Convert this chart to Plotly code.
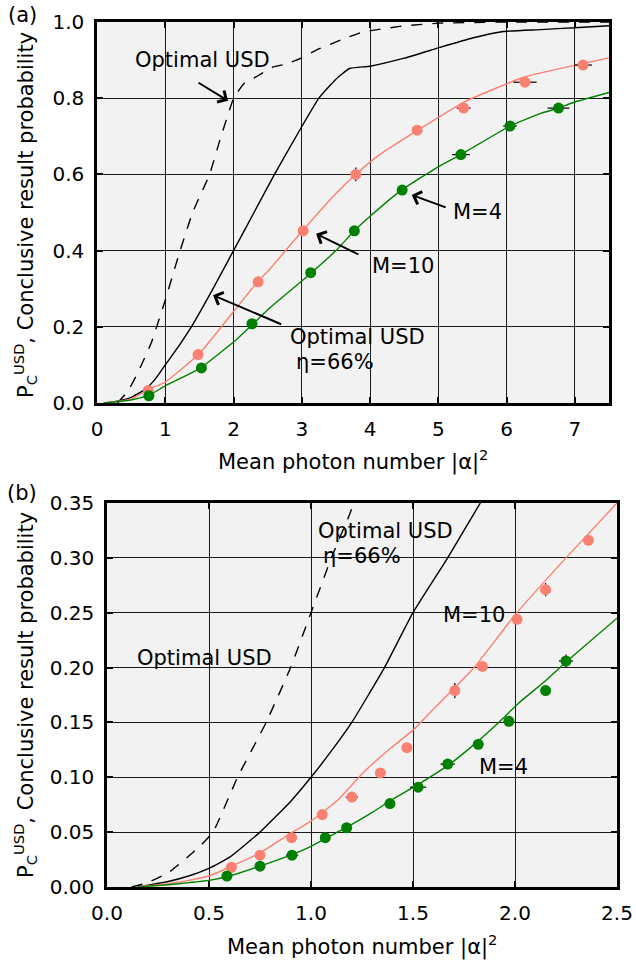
import plotly.graph_objects as go

# ---------------- Panel (a) data ----------------
a_dash_x = [0.30, 0.45, 0.60, 0.80, 1.00, 1.20, 1.40, 1.65, 1.80, 2.00, 2.15, 2.34, 2.58, 2.78, 3.00, 3.22, 3.63, 3.90, 4.50, 5.02, 6.00, 7.50]
a_dash_y = [0.000, 0.030, 0.080, 0.160, 0.270, 0.390, 0.500, 0.600, 0.690, 0.800, 0.838, 0.857, 0.882, 0.890, 0.906, 0.927, 0.957, 0.974, 0.990, 0.997, 1.000, 1.000]

a_solid_x = [0.10, 0.30, 0.50, 0.70, 0.85, 1.00, 1.20, 1.40, 1.70, 2.00, 2.30, 2.60, 2.95, 3.25, 3.50, 3.70, 4.00, 4.50, 5.00, 5.50, 5.95, 6.50, 7.00, 7.50]
a_solid_y = [0.000, 0.005, 0.015, 0.035, 0.062, 0.100, 0.150, 0.205, 0.300, 0.400, 0.500, 0.600, 0.710, 0.800, 0.850, 0.878, 0.884, 0.905, 0.932, 0.958, 0.975, 0.980, 0.985, 0.990]

a_m10_line_x = [0.10, 0.50, 0.75, 1.00, 1.50, 2.00, 2.36, 2.50, 3.00, 3.50, 3.79, 4.14, 4.69, 5.39, 6.25, 7.12, 7.50]
a_m10_line_y = [0.000, 0.010, 0.035, 0.055, 0.130, 0.240, 0.320, 0.345, 0.450, 0.550, 0.600, 0.652, 0.715, 0.791, 0.855, 0.891, 0.906]

a_m4_line_x = [0.10, 0.50, 0.76, 1.00, 1.50, 2.00, 2.27, 2.50, 3.00, 3.50, 3.77, 4.00, 4.47, 5.00, 5.33, 5.50, 6.05, 6.50, 6.76, 7.00, 7.50]
a_m4_line_y = [0.000, 0.008, 0.020, 0.045, 0.090, 0.160, 0.205, 0.245, 0.320, 0.400, 0.452, 0.490, 0.560, 0.620, 0.652, 0.670, 0.727, 0.760, 0.774, 0.790, 0.815]

a_m10_pts_x = [0.75, 1.48, 2.36, 3.02, 3.79, 4.69, 5.37, 6.27, 7.12]
a_m10_pts_y = [0.033, 0.127, 0.318, 0.452, 0.600, 0.716, 0.774, 0.842, 0.887]
a_m10_err_x = [0.0, 0.0, 0.0, 0.0, 0.0, 0.0, 0.10, 0.17, 0.13]
a_m10_err_y = [0.0, 0.0, 0.0, 0.0, 0.018, 0.0, 0.0, 0.0, 0.0]

a_m4_pts_x = [0.76, 1.53, 2.27, 3.13, 3.77, 4.47, 5.33, 6.05, 6.76]
a_m4_pts_y = [0.019, 0.092, 0.208, 0.342, 0.452, 0.559, 0.652, 0.727, 0.774]
a_m4_err_x = [0.0, 0.0, 0.0, 0.0, 0.0, 0.0, 0.13, 0.10, 0.16]
a_m4_err_y = [0.0, 0.0, 0.0, 0.0, 0.0, 0.0, 0.0, 0.0, 0.0]

# ---------------- Panel (b) data ----------------
b_dash_x = [0.12, 0.20, 0.30, 0.40, 0.46, 0.52, 0.64, 0.78, 0.90, 1.00, 1.10, 1.19, 1.25]
b_dash_y = [0.000, 0.004, 0.013, 0.028, 0.038, 0.050, 0.100, 0.150, 0.200, 0.250, 0.300, 0.340, 0.370]

b_solid_x = [0.15, 0.30, 0.40, 0.50, 0.60, 0.75, 0.90, 1.00, 1.10, 1.20, 1.36, 1.50, 1.67, 1.83, 1.90]
b_solid_y = [0.000, 0.005, 0.010, 0.017, 0.027, 0.050, 0.078, 0.100, 0.124, 0.150, 0.200, 0.250, 0.300, 0.350, 0.370]

b_m10_line_x = [0.15, 0.30, 0.40, 0.50, 0.60, 0.75, 0.90, 1.00, 1.13, 1.26, 1.40, 1.50, 1.60, 1.80, 2.00, 2.25, 2.50]
b_m10_line_y = [0.000, 0.003, 0.006, 0.010, 0.018, 0.031, 0.049, 0.060, 0.079, 0.105, 0.128, 0.143, 0.162, 0.200, 0.248, 0.300, 0.350]

b_m4_line_x = [0.15, 0.30, 0.40, 0.50, 0.60, 0.75, 0.90, 1.00, 1.10, 1.20, 1.30, 1.40, 1.53, 1.68, 1.80, 1.92, 2.02, 2.15, 2.25, 2.50]
b_m4_line_y = [0.000, 0.002, 0.004, 0.006, 0.010, 0.019, 0.029, 0.037, 0.047, 0.057, 0.068, 0.080, 0.094, 0.112, 0.130, 0.150, 0.168, 0.188, 0.205, 0.245]

b_m10_pts_x = [0.61, 0.75, 0.905, 1.055, 1.20, 1.34, 1.47, 1.705, 1.84, 2.01, 2.15, 2.36]
b_m10_pts_y = [0.018, 0.029, 0.045, 0.066, 0.082, 0.104, 0.127, 0.179, 0.201, 0.244, 0.271, 0.316]
b_m10_err_x = [0.0, 0.0, 0.0, 0.0, 0.03, 0.0, 0.0, 0.0, 0.0, 0.0, 0.0, 0.0]
b_m10_err_y = [0.0, 0.0, 0.0, 0.0, 0.0, 0.0, 0.0, 0.007, 0.0, 0.0, 0.006, 0.0]

b_m4_pts_x = [0.588, 0.75, 0.907, 1.07, 1.175, 1.387, 1.525, 1.67, 1.82, 1.97, 2.15, 2.25]
b_m4_pts_y = [0.010, 0.019, 0.029, 0.045, 0.054, 0.076, 0.091, 0.112, 0.130, 0.151, 0.179, 0.206]
b_m4_err_x = [0.0, 0.0, 0.03, 0.0, 0.0, 0.0, 0.04, 0.035, 0.0, 0.0, 0.0, 0.035]
b_m4_err_y = [0.0, 0.0, 0.0, 0.0, 0.0, 0.0, 0.0, 0.0, 0.0, 0.0, 0.0, 0.006]

# ---------------- Styles ----------------
FONT = "DejaVu Sans"
SALMON = "#fa8072"
GREEN = "#008000"

fig = go.Figure()


def add_line(x, y, color, xa, ya, dash="solid", width=1.4, smooth=0.4):
    line = dict(color=color, width=width, dash=dash)
    if smooth > 0:
        line.update(shape="spline", smoothing=smooth)
    fig.add_trace(go.Scatter(x=x, y=y, mode="lines", xaxis=xa, yaxis=ya, line=line,
                             showlegend=False, hoverinfo="skip"))


def add_pts(x, y, ex, ey, color, xa, ya):
    fig.add_trace(go.Scatter(x=x, y=y, mode="markers", xaxis=xa, yaxis=ya,
                             marker=dict(color=color, size=11, line=dict(width=0)),
                             error_x=dict(type="data", array=ex, visible=True, color="black",
                                          thickness=1.2, width=0),
                             error_y=dict(type="data", array=ey, visible=True, color="black",
                                          thickness=1.2, width=0),
                             showlegend=False))


# panel (a)
add_line(a_dash_x, a_dash_y, "black", "x", "y", dash="11px,10px", smooth=0.25)
add_line(a_solid_x, a_solid_y, "black", "x", "y")
add_line(a_m10_line_x, a_m10_line_y, SALMON, "x", "y")
add_line(a_m4_line_x, a_m4_line_y, GREEN, "x", "y")
add_pts(a_m10_pts_x, a_m10_pts_y, a_m10_err_x, a_m10_err_y, SALMON, "x", "y")
add_pts(a_m4_pts_x, a_m4_pts_y, a_m4_err_x, a_m4_err_y, GREEN, "x", "y")

# panel (b)
add_line(b_dash_x, b_dash_y, "black", "x2", "y2", dash="11px,10px")
add_line(b_solid_x, b_solid_y, "black", "x2", "y2")
add_line(b_m10_line_x, b_m10_line_y, SALMON, "x2", "y2")
add_line(b_m4_line_x, b_m4_line_y, GREEN, "x2", "y2")
add_pts(b_m10_pts_x, b_m10_pts_y, b_m10_err_x, b_m10_err_y, SALMON, "x2", "y2")
add_pts(b_m4_pts_x, b_m4_pts_y, b_m4_err_x, b_m4_err_y, GREEN, "x2", "y2")

W, H = 636, 962

axis_common = dict(showline=True, linecolor="black", linewidth=2.5, mirror="ticks",
                   ticks="inside", ticklen=6, tickwidth=1.5, tickcolor="black",
                   showgrid=True, gridcolor="#1a1a1a", gridwidth=1, zeroline=False,
                   automargin=False,
                   tickfont=dict(family=FONT, size=20, color="black"))

fig.update_layout(
    width=W, height=H,
    margin=dict(l=0, r=0, t=0, b=0, autoexpand=False),
    paper_bgcolor="white", plot_bgcolor="#f2f2f2",
    font=dict(family=FONT, size=20, color="black"),
    xaxis=dict(axis_common, domain=[97 / W, 609 / W], range=[0, 7.5], dtick=1, tick0=0,
               tickformat="d", anchor="y", ticklabelstandoff=6),
    yaxis=dict(axis_common, domain=[1 - 403 / H, 1 - 22 / H], range=[0, 1.0], dtick=0.2, tick0=0,
               tickformat=".1f", anchor="x", ticklabelstandoff=6),
    xaxis2=dict(axis_common, domain=[107 / W, 617 / W], range=[0, 2.5], dtick=0.5, tick0=0,
                tickformat=".1f", anchor="y2", ticklabelstandoff=6),
    yaxis2=dict(axis_common, domain=[1 - 887 / H, 1 - 503 / H], range=[0, 0.35], dtick=0.05, tick0=0,
                tickformat=".2f", anchor="x2", ticklabelstandoff=6),
)

ann = []


def text(x, y, s, xref="x", yref="y", size=21, angle=0):
    ann.append(dict(x=x, y=y, xref=xref, yref=yref, text=s, showarrow=False,
                    font=dict(family=FONT, size=size, color="black"),
                    xanchor="center", yanchor="middle", textangle=angle))


def arrow(hx, hy, tx, ty, xref="x", yref="y"):
    ann.append(dict(x=hx, y=hy, ax=tx, ay=ty, xref=xref, yref=yref, axref=xref, ayref=yref,
                    text="", showarrow=True, arrowhead=4, arrowsize=1.3, arrowwidth=2,
                    arrowcolor="black", standoff=0, startstandoff=0))


# panel (a) annotations
text(1.54, 0.90, "Optimal USD")
arrow(1.92, 0.793, 1.465, 0.843)
text(5.57, 0.501, "M=4")
arrow(4.61, 0.546, 5.13, 0.512)
text(4.48, 0.36, "M=10")
arrow(3.21, 0.444, 3.85, 0.388)
text(3.81, 0.173, "Optimal USD")
text(3.49, 0.108, "η=66%")
arrow(1.70, 0.283, 2.72, 0.205)

# panel (b) annotations
text(0.48, 0.209, "Optimal USD", "x2", "y2")
text(1.363, 0.3245, "Optimal USD", "x2", "y2")
text(1.25, 0.302, "η=66%", "x2", "y2")
text(1.80, 0.248, "M=10", "x2", "y2")
text(1.946, 0.109, "M=4", "x2", "y2")

# axis titles and panel labels (paper coordinates)
xt = "Mean photon number |α|<sup>2</sup>"
yt = "P<sub>C</sub><sup>USD</sup>, Conclusive result probability"
text(353 / W, 1 - 460 / H, xt, "paper", "paper", size=21)
text(362 / W, 1 - 945 / H, xt, "paper", "paper", size=21)
text(25 / W, 1 - 215 / H, yt, "paper", "paper", size=21, angle=-90)
text(25 / W, 1 - 695 / H, yt, "paper", "paper", size=21, angle=-90)
text(22 / W, 1 - 15 / H, "(a)", "paper", "paper", size=21)
text(22 / W, 1 - 493 / H, "(b)", "paper", "paper", size=21)

fig.update_layout(annotations=ann)

fig.write_html("out.html")
